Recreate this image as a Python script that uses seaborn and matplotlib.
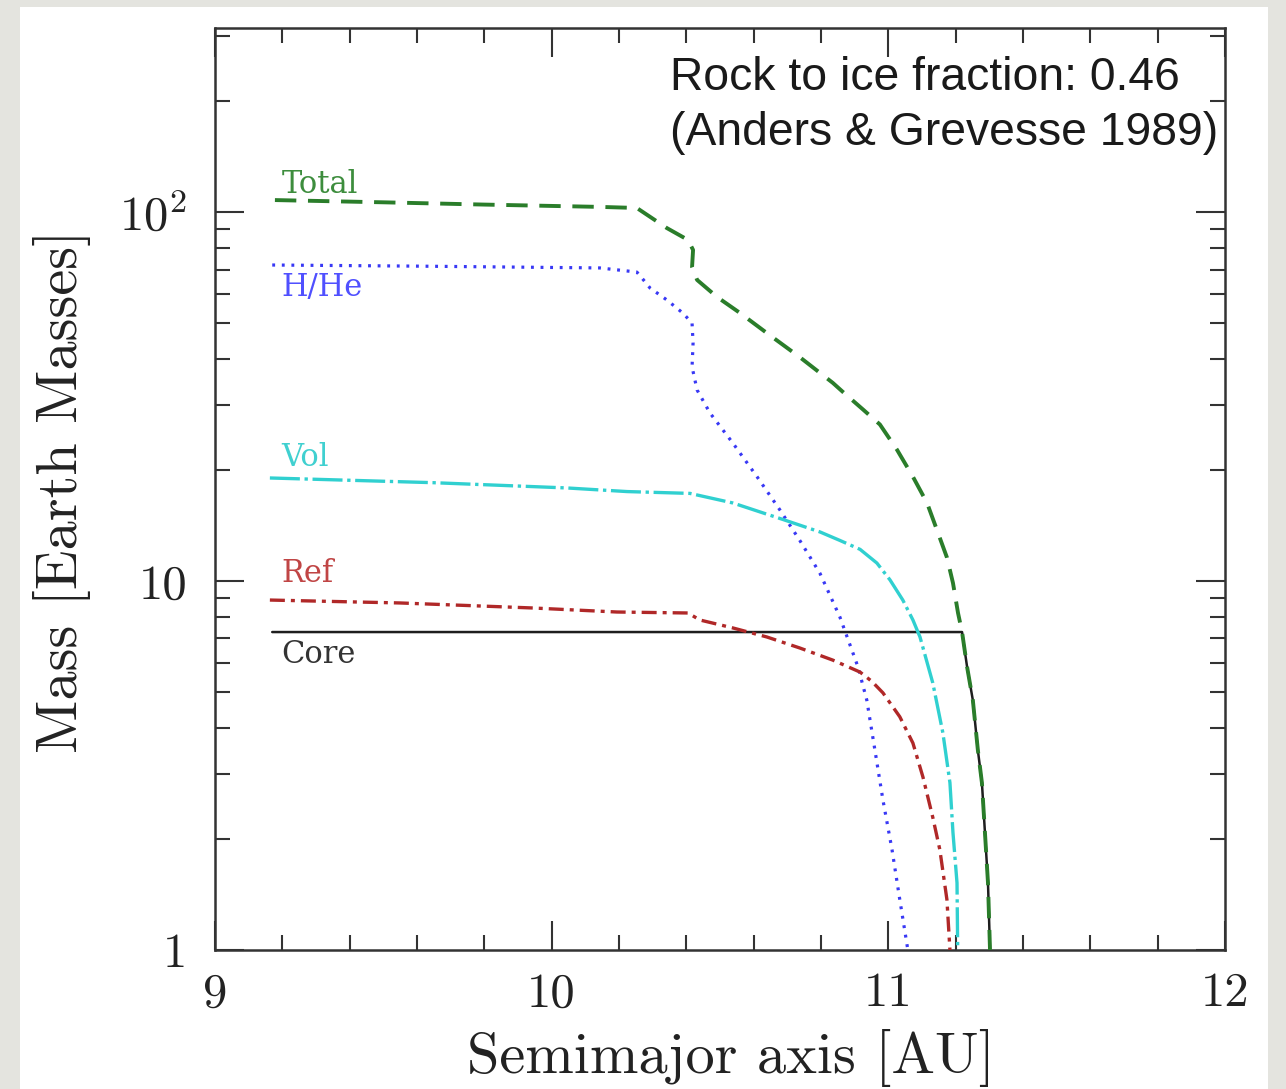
import numpy as np
import pandas as pd
import matplotlib
matplotlib.use("Agg")
import matplotlib.pyplot as plt
import seaborn as sns
from matplotlib.ticker import FixedLocator, MultipleLocator, NullFormatter, FixedFormatter
from matplotlib.patches import Rectangle

# ---------------- data ----------------
total_a = [9.178, 9.50, 9.80, 10.143, 10.253, 10.342, 10.405, 10.420, 10.417, 10.432,
           10.491, 10.559, 10.639, 10.737, 10.835, 10.865, 10.925, 10.975, 11.026,
           11.073, 11.115, 11.144, 11.174, 11.192, 11.207, 11.219, 11.234, 11.251,
           11.266, 11.278, 11.287, 11.296, 11.302]
total_m = [108, 106.5, 105, 103.5, 102.8, 90.7, 84.2, 79.1, 71.1, 65.6,
           59.0, 53.4, 47.1, 40.5, 34.5, 32.6, 29.2, 26.6, 22.7,
           19.2, 16.3, 13.8, 11.6, 9.89, 8.20, 7.28, 5.85, 4.76,
           3.48, 2.84, 2.08, 1.52, 1.0]

hhe_a = [9.17, 9.6, 10.143, 10.253, 10.268, 10.292, 10.342, 10.390, 10.417, 10.420,
         10.417, 10.432, 10.470, 10.538, 10.610, 10.678, 10.737, 10.797, 10.856,
         10.910, 10.936, 10.960, 10.984, 11.011, 11.034, 11.058]
hhe_m = [72, 71.5, 70.7, 68.9, 66.4, 62.4, 57.9, 53.3, 50.1, 44.2,
         38.1, 33.0, 28.6, 23.7, 19.2, 15.6, 12.9, 10.5, 8.0,
         5.85, 4.76, 3.49, 2.55, 1.87, 1.37, 1.0]

vol_a = [9.163, 9.647, 10.045, 10.224, 10.411, 10.538, 10.687, 10.797, 10.856, 10.916,
         10.966, 11.005, 11.043, 11.073, 11.094, 11.132, 11.162, 11.183, 11.192,
         11.204, 11.206]
vol_m = [19.05, 18.5, 17.9, 17.5, 17.3, 16.3, 14.7, 13.6, 12.9, 12.2,
         11.2, 10.08, 8.89, 7.85, 7.06, 5.30, 3.88, 2.84, 2.08,
         1.52, 1.0]

ref_a = [9.163, 9.549, 9.944, 10.194, 10.405, 10.440, 10.538, 10.639, 10.737, 10.835,
         10.916, 10.951, 10.984, 11.034, 11.073, 11.103, 11.132, 11.153, 11.174, 11.183]
ref_m = [8.89, 8.73, 8.46, 8.25, 8.20, 7.85, 7.47, 7.06, 6.59, 6.11,
         5.67, 5.35, 4.98, 4.29, 3.64, 2.94, 2.29, 1.87, 1.37, 1.0]

core_a = [9.17, 11.219, 11.234, 11.251, 11.266, 11.278, 11.287, 11.296, 11.302]
core_m = [7.28, 7.28, 5.85, 4.76, 3.48, 2.84, 2.08, 1.52, 1.0]

curve_labels = ["Total", "H/He", "Vol", "Ref", "Core"]
label_pos_m = [118.7, 62.4, 21.7, 10.5, 6.31]

x_ticks = [9, 10, 11, 12]
x_ticklabels = ["9", "10", "11", "12"]
y_ticks = [1, 10, 100]
y_ticklabels = ["1", "10", r"$10^2$"]

note_line1 = "Rock to ice fraction: 0.46"
note_line2 = "(Anders & Grevesse 1989)"

# ---------------- style ----------------
sns.set_style("ticks")
plt.rcParams["font.family"] = ["cmr10", "DejaVu Serif"]
plt.rcParams["mathtext.fontset"] = "cm"
plt.rcParams["axes.unicode_minus"] = False

W, H = 1286, 1089
fig = plt.figure(figsize=(W / 100, H / 100), dpi=100)
fig.patch.set_facecolor("#e4e4df")
fig.add_artist(Rectangle((20 / W, 0), (1268 - 20) / W, (H - 7) / H,
                         transform=fig.transFigure, facecolor="white",
                         edgecolor="none", zorder=-10))

ax = fig.add_axes([215 / W, (H - 950) / H, (1225 - 215) / W, (950 - 28) / H])
ax.set_facecolor("white")

c_total = "#2a7d2a"
c_hhe = "#3838f5"
c_vol = "#30d0d0"
c_ref = "#b02828"
c_core = "#1e1e1e"

sns.lineplot(x=core_a, y=core_m, ax=ax, color=c_core, linewidth=1.8,
             sort=False, estimator=None, zorder=2)
sns.lineplot(x=hhe_a, y=hhe_m, ax=ax, color=c_hhe, linewidth=2.3,
             linestyle=(0, (0.9, 2.1)), sort=False, estimator=None, zorder=3)
sns.lineplot(x=ref_a, y=ref_m, ax=ax, color=c_ref, linewidth=2.4,
             linestyle=(0, (4.5, 1.8, 1.2, 1.8)), sort=False, estimator=None, zorder=3)
sns.lineplot(x=vol_a, y=vol_m, ax=ax, color=c_vol, linewidth=2.4,
             linestyle=(0, (9, 1.4, 1.0, 1.4)), sort=False, estimator=None, zorder=3)
sns.lineplot(x=total_a, y=total_m, ax=ax, color=c_total, linewidth=2.8,
             linestyle=(0, (5.5, 3.0)), sort=False, estimator=None, zorder=4)

ax.set_yscale("log")
ax.set_xlim(9, 12)
ax.set_ylim(1, 10 ** 2.5)

ax.xaxis.set_major_locator(FixedLocator(x_ticks))
ax.xaxis.set_major_formatter(FixedFormatter(x_ticklabels))
ax.xaxis.set_minor_locator(MultipleLocator(0.2))
ax.xaxis.set_minor_formatter(NullFormatter())
ax.yaxis.set_major_locator(FixedLocator(y_ticks))
ax.yaxis.set_major_formatter(FixedFormatter(y_ticklabels))
minor_y = [s * 10 ** e for e in range(0, 3) for s in range(2, 10) if s * 10 ** e < 10 ** 2.5]
ax.yaxis.set_minor_locator(FixedLocator(minor_y))
ax.yaxis.set_minor_formatter(NullFormatter())

for sp in ax.spines.values():
    sp.set_color("#333333")
    sp.set_linewidth(1.8)
    sp.set_visible(True)

ax.tick_params(which="both", direction="in", top=True, right=True,
               color="#333333", width=1.5)
ax.tick_params(which="major", length=21)
ax.tick_params(which="minor", length=10.5)
ax.tick_params(axis="x", which="major", labelsize=35, pad=16, labelcolor="#222222")
ax.tick_params(axis="y", which="major", labelsize=35, pad=20, labelcolor="#222222")

ax.set_xlabel("Semimajor axis [AU]", fontsize=42, color="#222222")
ax.set_ylabel("Mass [Earth Masses]", fontsize=42, color="#222222")
ax.xaxis.label.set_va("center")
ax.yaxis.label.set_va("center")
ax.xaxis.set_label_coords(0.511, -0.117)
ax.yaxis.set_label_coords(-0.151, 0.497)

label_colors = ["#3d8d3d", "#5050ff", "#40d0d0", "#c04545", "#333333"]
for txt, m, col in zip(curve_labels, label_pos_m, label_colors):
    ax.text(9.198, m, txt, color=col, fontsize=22, family="DejaVu Serif",
            ha="left", va="center", zorder=5)

fig.text(670 / W, 1 - 90 / H, note_line1, fontsize=33.3, family="Liberation Sans",
         ha="left", va="baseline", color="#1a1a1a")
fig.text(670 / W, 1 - 145 / H, note_line2, fontsize=33.3, family="Liberation Sans",
         ha="left", va="baseline", color="#1a1a1a")

fig.savefig("out.png", dpi=100, facecolor=fig.get_facecolor())
